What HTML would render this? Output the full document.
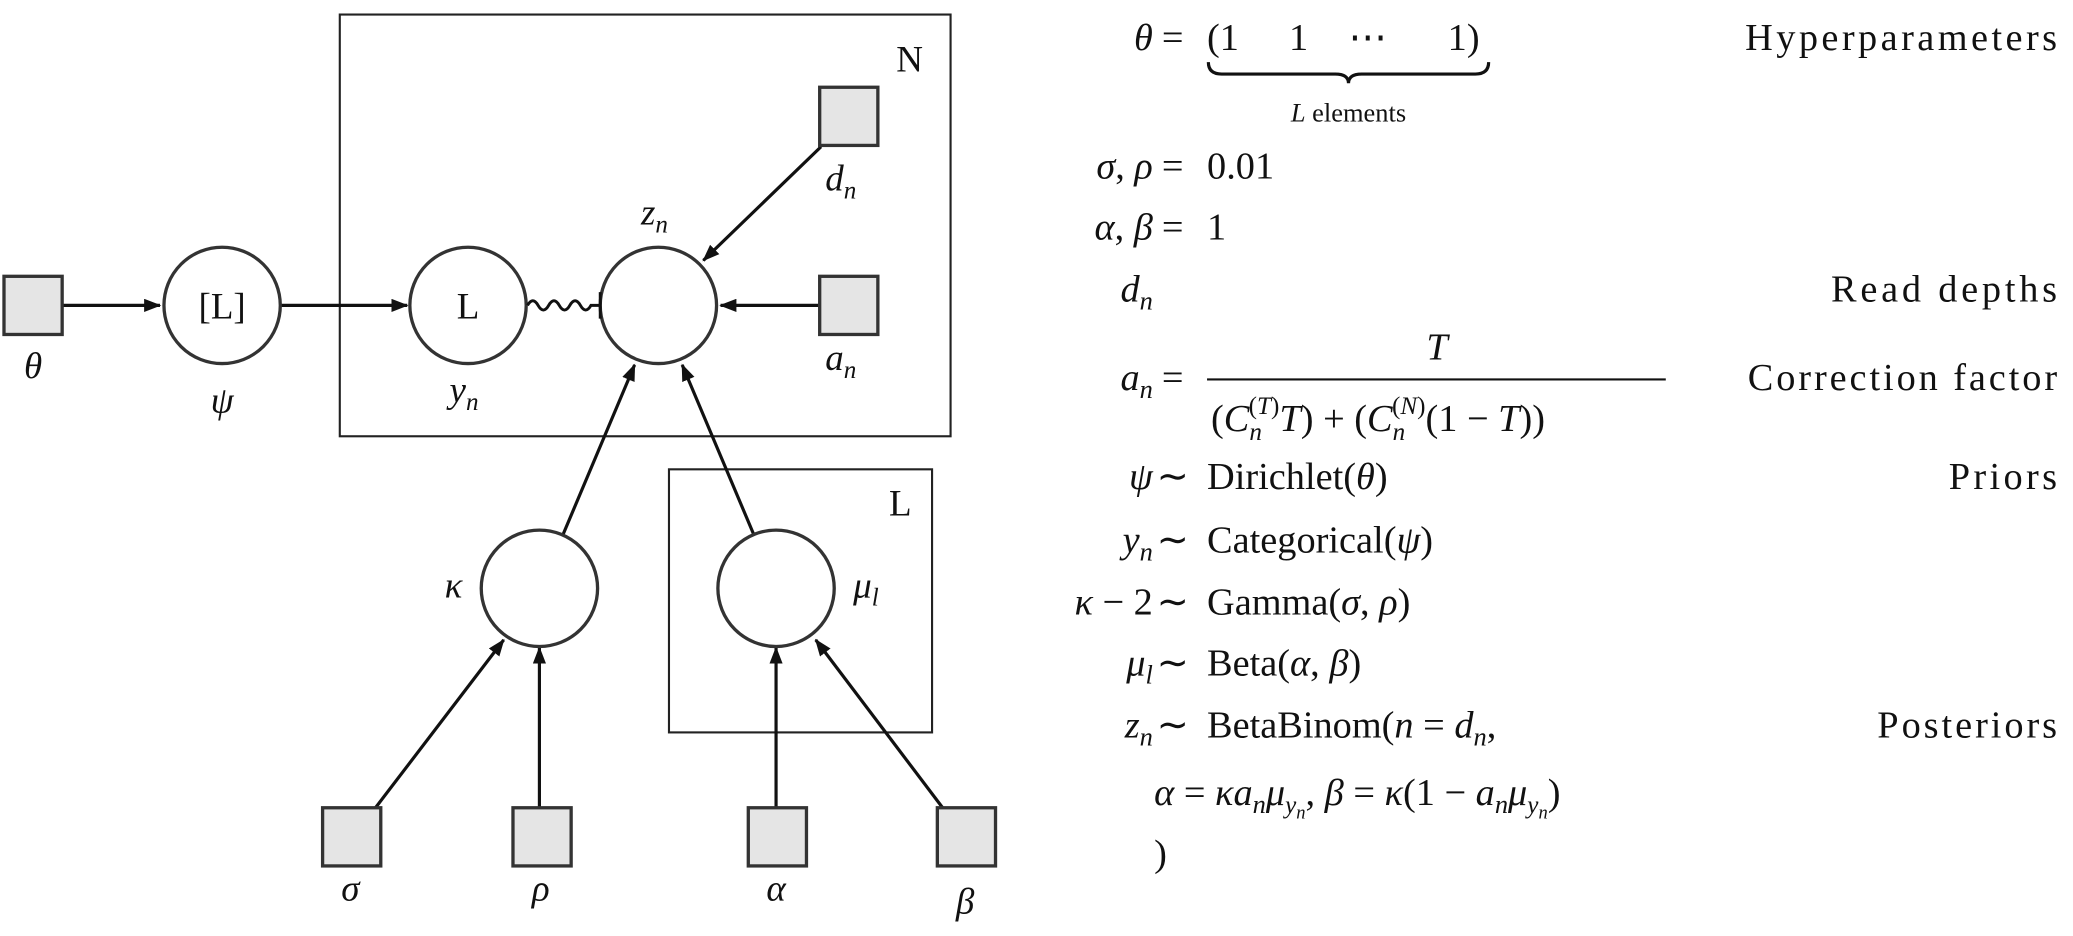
<!DOCTYPE html>
<html><head><meta charset="utf-8"><style>
html,body{margin:0;padding:0;background:#fff;}
svg{display:block;}
text{font-family:"Liberation Serif",serif;fill:#111;}
.m{font-style:italic;}
</style></head><body>
<svg width="2073" height="936" viewBox="0 0 1568 708" xmlns="http://www.w3.org/2000/svg">
<defs><marker id="ah" markerWidth="13" markerHeight="10" refX="12" refY="5" orient="auto" markerUnits="userSpaceOnUse"><path d="M0,0 L13,5 L0,10 z" fill="#111"/></marker></defs>
<g fill="none" stroke="#222" stroke-width="1.6">
<rect x="257" y="11" width="462" height="319"/>
<rect x="506" y="355" width="199" height="199"/>
</g>
<text x="688" y="54" font-size="28" text-anchor="middle">N</text>
<text x="681" y="390" font-size="28" text-anchor="middle">L</text>
<g stroke="#111" stroke-width="2.4" fill="none" marker-end="url(#ah)">
<line x1="47" y1="231" x2="121" y2="231"/>
<line x1="212" y1="231" x2="308" y2="231"/>
<line x1="621" y1="111" x2="532" y2="197"/>
<line x1="619" y1="231" x2="545" y2="231"/>
<line x1="426" y1="404" x2="480" y2="276"/>
<line x1="570" y1="404" x2="516" y2="276"/>
<line x1="284" y1="611" x2="381" y2="484"/>
<line x1="408" y1="611" x2="408" y2="490"/>
<line x1="587" y1="611" x2="587" y2="490"/>
<line x1="713" y1="611" x2="617" y2="484"/>
</g>
<g fill="#fff" stroke="#333" stroke-width="2.5">
<circle cx="168" cy="231" r="44"/>
<circle cx="354" cy="231" r="44"/>
<circle cx="498" cy="231" r="44"/>
<circle cx="408" cy="445" r="44"/>
<circle cx="587" cy="445" r="44"/>
</g>
<path d="M399,231 q4,-7 8,0 t8,0 t8,0 t8,0 t8,0 t8,0 L454,231 M454,221 L454,241" stroke="#111" stroke-width="2.2" fill="none"/>
<g fill="#e5e5e5" stroke="#333" stroke-width="2.5">
<rect x="3" y="209" width="44" height="44"/>
<rect x="620" y="66" width="44" height="44"/>
<rect x="620" y="209" width="44" height="44"/>
<rect x="244" y="611" width="44" height="44"/>
<rect x="388" y="611" width="44" height="44"/>
<rect x="566" y="611" width="44" height="44"/>
<rect x="709" y="611" width="44" height="44"/>
</g>
<g font-size="28" text-anchor="middle">
<text x="168" y="241">[L]</text>
<text x="354" y="241">L</text>
<text class="m" x="25" y="286">θ</text>
<text class="m" x="168" y="312">ψ</text>
<text class="m" x="351" y="304">y<tspan font-size="19" dy="6">n</tspan></text>
<text class="m" x="495" y="170">z<tspan font-size="19" dy="6">n</tspan></text>
<text class="m" x="636" y="144">d<tspan font-size="19" dy="6">n</tspan></text>
<text class="m" x="636" y="280">a<tspan font-size="19" dy="6">n</tspan></text>
<text class="m" x="343" y="452">κ</text>
<text class="m" x="655" y="452">μ<tspan font-size="19" dy="6">l</tspan></text>
<text class="m" x="265" y="681">σ</text>
<text class="m" x="409" y="681">ρ</text>
<text class="m" x="587" y="681">α</text>
<text class="m" x="730" y="691">β</text>
</g>
<g font-size="29">
<text class="m" text-anchor="end" x="872" y="38">θ</text><text x="887" y="38" text-anchor="middle">=</text>
<text x="913" y="38">(1</text><text x="975" y="38">1</text><text x="1020" y="38">⋯</text><text x="1095" y="38">1)</text>
<path d="M914,47 q0,9 10,9 L1010,56 q10,0 10,7 q0,-7 10,-7 L1116,56 q10,0 10,-9" stroke="#111" stroke-width="2.4" fill="none"/>
<text x="1020" y="92" font-size="20" text-anchor="middle"><tspan class="m">L</tspan> elements</text>
<text text-anchor="end" x="1556" y="38" textLength="236">Hyperparameters</text>
<text text-anchor="end" x="872" y="135"><tspan class="m">σ</tspan>, <tspan class="m">ρ</tspan></text><text x="887" y="135" text-anchor="middle">=</text><text x="913" y="135">0.01</text>
<text text-anchor="end" x="872" y="181"><tspan class="m">α</tspan>, <tspan class="m">β</tspan></text><text x="887" y="181" text-anchor="middle">=</text><text x="913" y="181">1</text>
<text class="m" text-anchor="end" x="872" y="228">d<tspan font-size="20" dy="6">n</tspan></text>
<text text-anchor="end" x="1556" y="228" textLength="171">Read depths</text>
<text class="m" text-anchor="end" x="872" y="295">a<tspan font-size="20" dy="6">n</tspan></text><text x="887" y="295" text-anchor="middle">=</text>
<text class="m" x="1087" y="272" text-anchor="middle">T</text>
<line x1="913" y1="287" x2="1260" y2="287" stroke="#111" stroke-width="1.6"/>
<text x="916" y="326">(<tspan class="m">C</tspan><tspan class="m" font-size="19" dy="7">n</tspan><tspan font-size="19" dx="-10" dy="-20">(<tspan class="m">T</tspan>)</tspan><tspan class="m" dy="13">T</tspan>) + (<tspan class="m">C</tspan><tspan class="m" font-size="19" dy="7">n</tspan><tspan font-size="19" dx="-10" dy="-20">(<tspan class="m">N</tspan>)</tspan><tspan dy="13">(1 − </tspan><tspan class="m">T</tspan>))</text>
<text text-anchor="end" x="1556" y="295" textLength="234">Correction factor</text>
<text class="m" text-anchor="end" x="872" y="370">ψ</text><text x="887" y="370" text-anchor="middle">∼</text><text x="913" y="370">Dirichlet(<tspan class="m">θ</tspan>)</text>
<text text-anchor="end" x="1556" y="370" textLength="82">Priors</text>
<text class="m" text-anchor="end" x="872" y="418">y<tspan font-size="20" dy="6">n</tspan></text><text x="887" y="418" text-anchor="middle">∼</text><text x="913" y="418">Categorical(<tspan class="m">ψ</tspan>)</text>
<text text-anchor="end" x="872" y="465"><tspan class="m">κ</tspan> − 2</text><text x="887" y="465" text-anchor="middle">∼</text><text x="913" y="465">Gamma(<tspan class="m">σ</tspan>, <tspan class="m">ρ</tspan>)</text>
<text class="m" text-anchor="end" x="872" y="511">μ<tspan font-size="20" dy="6">l</tspan></text><text x="887" y="511" text-anchor="middle">∼</text><text x="913" y="511">Beta(<tspan class="m">α</tspan>, <tspan class="m">β</tspan>)</text>
<text class="m" text-anchor="end" x="872" y="558">z<tspan font-size="20" dy="6">n</tspan></text><text x="887" y="558" text-anchor="middle">∼</text><text x="913" y="558">BetaBinom(<tspan class="m">n</tspan> = <tspan class="m">d</tspan><tspan class="m" font-size="20" dy="6">n</tspan><tspan dy="-6">,</tspan></text>
<text text-anchor="end" x="1556" y="558" textLength="136">Posteriors</text>
<text x="873" y="609"><tspan class="m">α</tspan> = <tspan class="m">κa</tspan><tspan class="m" font-size="20" dy="6">n</tspan><tspan class="m" dy="-6">μ</tspan><tspan class="m" font-size="19" dy="6">y</tspan><tspan class="m" font-size="14" dy="4">n</tspan><tspan dy="-10">, </tspan><tspan class="m">β</tspan> = <tspan class="m">κ</tspan>(1 − <tspan class="m">a</tspan><tspan class="m" font-size="20" dy="6">n</tspan><tspan class="m" dy="-6">μ</tspan><tspan class="m" font-size="19" dy="6">y</tspan><tspan class="m" font-size="14" dy="4">n</tspan><tspan dy="-10">)</tspan></text>
<text x="873" y="655">)</text>
</g>
</svg>
</body></html>
